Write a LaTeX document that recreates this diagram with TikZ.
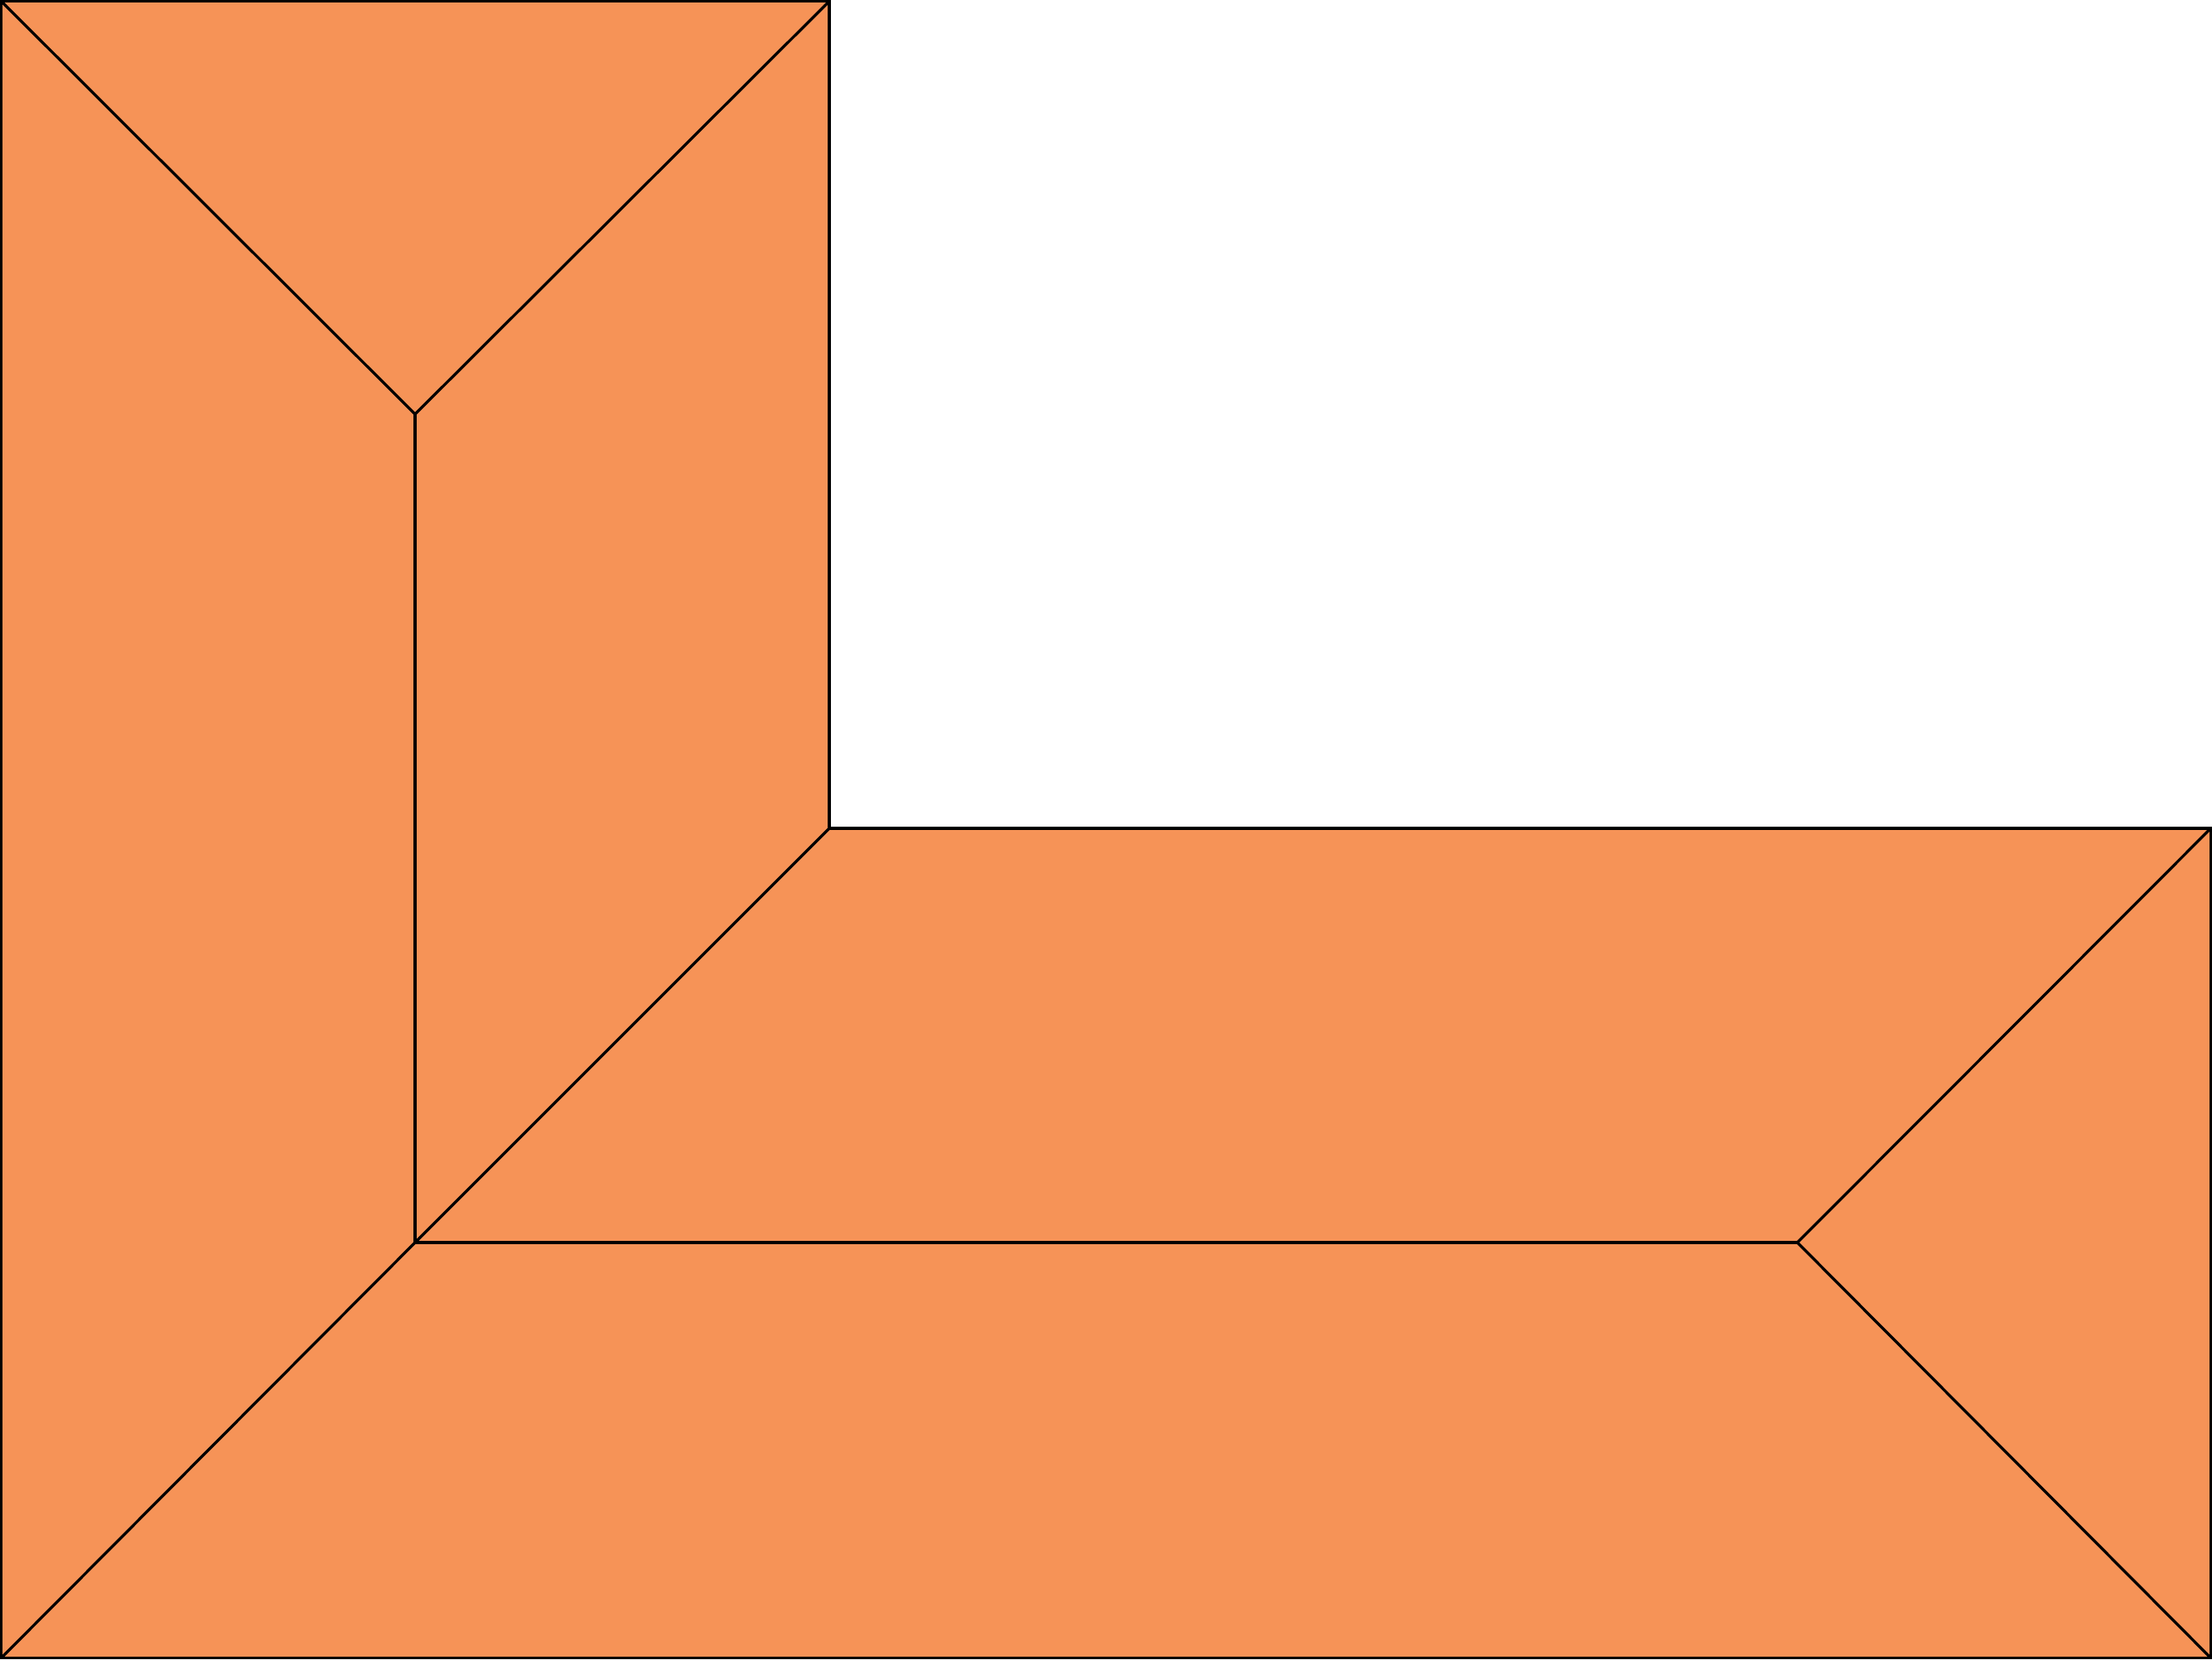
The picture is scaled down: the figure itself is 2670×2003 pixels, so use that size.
\documentclass[tikz,border=0pt]{standalone}
\definecolor{roof}{RGB}{246,147,87}
\tikzset{ridge/.style={draw=black,line width=0.95pt,line join=miter}}
\begin{document}
\begin{tikzpicture}[x=0.01cm,y=-0.01cm]
\useasboundingbox (0,0) rectangle (2670,2003);
\coordinate (A) at (1.5,1.5);
\coordinate (B) at (1001,1.5);
\coordinate (C) at (1001,1000);
\coordinate (D) at (2668.5,1000);
\coordinate (E) at (2668.5,2001.5);
\coordinate (F) at (1.5,2001.5);
\coordinate (Y) at (501,500);
\coordinate (G) at (501,1500);
\coordinate (H) at (2169.5,1500);
\fill[roof] (A) -- (B) -- (C) -- (D) -- (E) -- (F) -- cycle;
\draw[ridge] (A) -- (Y) -- (B);
\draw[ridge] (Y) -- (G);
\draw[ridge] (C) -- (G) -- (F);
\draw[ridge] (G) -- (H);
\draw[ridge] (D) -- (H) -- (E);
\draw[ridge] (A) -- (B) -- (C) -- (D) -- (E) -- (F) -- cycle;
\end{tikzpicture}
\end{document}
